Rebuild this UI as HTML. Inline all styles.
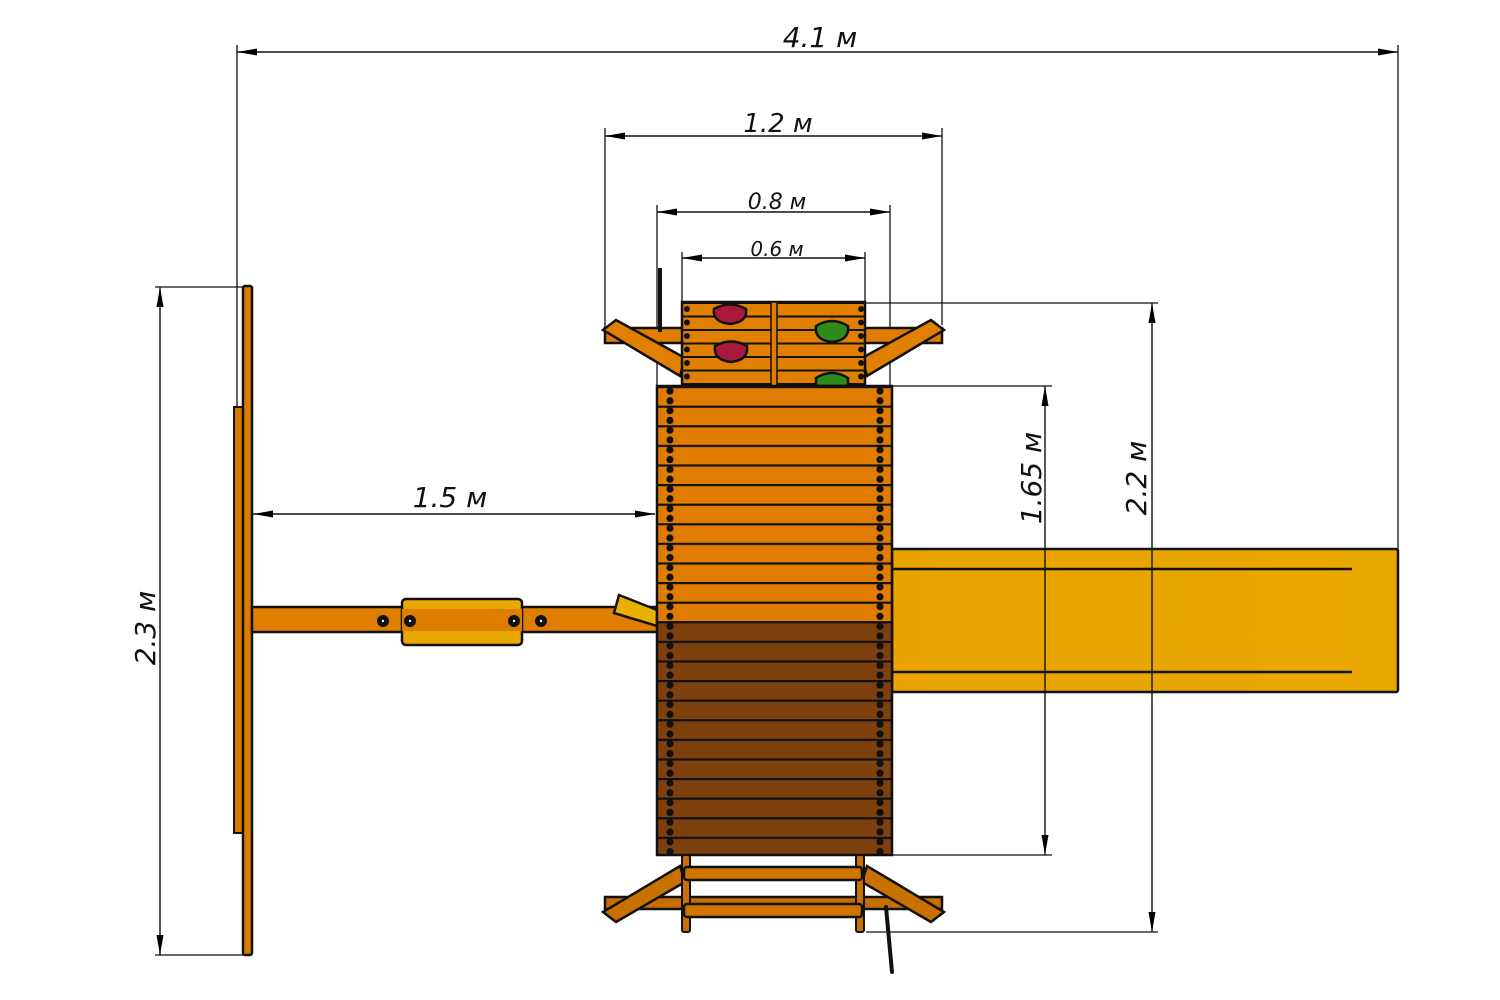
<!DOCTYPE html>
<html><head><meta charset="utf-8"><style>
html,body{margin:0;padding:0;background:#fff}
svg{display:block}
text{font-family:"DejaVu Sans","Liberation Sans",sans-serif;font-style:italic;fill:#111}
</style></head><body>
<svg width="1500" height="1000" viewBox="0 0 1500 1000" xmlns="http://www.w3.org/2000/svg">
<defs>
<marker id="a" markerWidth="20" markerHeight="8" refX="20" refY="4" orient="auto" markerUnits="userSpaceOnUse"><path d="M0,0.5 L20,4 L0,7.5 Z" fill="#000"/></marker>
<marker id="b" markerWidth="20" markerHeight="8" refX="0" refY="4" orient="auto" markerUnits="userSpaceOnUse"><path d="M20,0.5 L0,4 L20,7.5 Z" fill="#000"/></marker>
<pattern id="pl" patternUnits="userSpaceOnUse" x="0" y="386" width="1500" height="19.6"><rect x="0" y="0" width="1500" height="2.2" fill="#111"/></pattern>
<pattern id="bolt" patternUnits="userSpaceOnUse" x="0" y="386" width="1500" height="9.8"><circle cx="670" cy="5" r="3.6" fill="#111"/><circle cx="880" cy="5" r="3.6" fill="#111"/></pattern>
<pattern id="wl" patternUnits="userSpaceOnUse" x="0" y="302" width="1500" height="13.5"><rect x="0" y="0" width="1500" height="2" fill="#111"/></pattern>
<pattern id="wb" patternUnits="userSpaceOnUse" x="0" y="302" width="1500" height="13.5"><circle cx="687" cy="7" r="3" fill="#111"/><circle cx="861" cy="7" r="3" fill="#111"/></pattern>
<linearGradient id="sl" x1="0" x2="1"><stop offset="0" stop-color="#E8A300"/><stop offset="1" stop-color="#E9A800"/></linearGradient>
</defs>

<g stroke="#111" stroke-width="1.3" fill="none">
<line x1="237" y1="45" x2="237" y2="610"/>
<line x1="1398" y1="45" x2="1398" y2="550"/>
<line x1="605" y1="128" x2="605" y2="330"/>
<line x1="942" y1="128" x2="942" y2="325"/>
<line x1="657" y1="205" x2="657" y2="390"/>
<line x1="890" y1="205" x2="890" y2="390"/>
<line x1="682" y1="252" x2="682" y2="305"/>
<line x1="865" y1="252" x2="865" y2="305"/>
<line x1="155" y1="287" x2="245" y2="287"/>
<line x1="155" y1="955" x2="245" y2="955"/>
<line x1="866" y1="303" x2="1158" y2="303"/>
<line x1="866" y1="932" x2="1158" y2="932"/>
<line x1="892" y1="386" x2="1052" y2="386"/>
<line x1="892" y1="855" x2="1052" y2="855"/>
</g>

<rect x="234" y="407" width="9" height="426" fill="#D97800" stroke="#111" stroke-width="2"/>
<rect x="243" y="286" width="9" height="669" rx="2" fill="#DD7A00" stroke="#111" stroke-width="2.5"/>
<rect x="252" y="607" width="406" height="25" fill="#DE7D00" stroke="#111" stroke-width="2.5"/>
<rect x="402" y="599" width="120" height="46" rx="4" fill="#E9A800" stroke="#111" stroke-width="2.5"/>
<rect x="402" y="609" width="120" height="22" fill="#DE7D00"/>
<g fill="#111"><circle cx="383" cy="621" r="6"/><circle cx="410" cy="621" r="6"/><circle cx="514" cy="621" r="6"/><circle cx="541" cy="621" r="6"/></g>
<g fill="#fff"><circle cx="383" cy="621" r="1.2"/><circle cx="410" cy="621" r="1.2"/><circle cx="514" cy="621" r="1.2"/><circle cx="541" cy="621" r="1.2"/></g>
<path d="M619,595 L657,610 L657,626 L614,613 Z" fill="#E9B000" stroke="#111" stroke-width="2.5"/>

<rect x="892" y="549" width="506" height="143" rx="2" fill="url(#sl)" stroke="#111" stroke-width="2.5"/>
<line x1="892" y1="569" x2="1352" y2="569" stroke="#111" stroke-width="2.5"/>
<line x1="892" y1="672" x2="1352" y2="672" stroke="#111" stroke-width="2.5"/>

<rect x="605" y="328" width="337" height="15" fill="#DE7D00" stroke="#111" stroke-width="2.5"/>
<path d="M603,330 L616,320 L685,358 L680,376 Z" fill="#E08000" stroke="#111" stroke-width="2.5"/>
<path d="M944,330 L931,320 L862,358 L867,376 Z" fill="#E08000" stroke="#111" stroke-width="2.5"/>
<line x1="660" y1="268" x2="660" y2="332" stroke="#111" stroke-width="4"/>

<rect x="682" y="302" width="183" height="84" fill="#E07F00" stroke="#111" stroke-width="2.5"/>
<rect x="682" y="302" width="183" height="84" fill="url(#wl)"/>
<rect x="682" y="302" width="183" height="84" fill="url(#wb)"/>
<rect x="771" y="302" width="6" height="84" fill="#DE7D00" stroke="#111" stroke-width="1.5"/>
<g stroke="#111" stroke-width="2.5">
<path d="M714,309 Q730,300 746,309 Q748,322 730,324 Q712,322 714,309Z" fill="#A8193A"/>
<path d="M715,346 Q731,337 747,346 Q749,360 731,362 Q713,360 715,346Z" fill="#A8193A"/>
<path d="M816,326 Q832,316 848,326 Q850,340 832,342 Q814,340 816,326Z" fill="#2E8B1A"/>
<path d="M816,378 Q832,368 848,378 L848,386 L816,386Z" fill="#2E8B1A"/>
</g>

<rect x="657" y="386" width="235" height="235" fill="#E07C00"/>
<rect x="657" y="621" width="235" height="234" fill="#7E400C"/>
<rect x="657" y="386" width="235" height="469" fill="url(#pl)"/>
<rect x="657" y="386" width="235" height="469" fill="url(#bolt)"/>
<rect x="657" y="386" width="235" height="469" fill="none" stroke="#111" stroke-width="2.5"/>

<rect x="605" y="897" width="337" height="12" fill="#C86E00" stroke="#111" stroke-width="2.5"/>
<path d="M603,912 L616,922 L685,882 L680,866 Z" fill="#C87000" stroke="#111" stroke-width="2.5"/>
<path d="M944,912 L931,922 L862,882 L867,866 Z" fill="#C87000" stroke="#111" stroke-width="2.5"/>
<rect x="682" y="855" width="8" height="77" rx="2" fill="#C87000" stroke="#111" stroke-width="2"/>
<rect x="856" y="855" width="8" height="77" rx="2" fill="#C87000" stroke="#111" stroke-width="2"/>
<rect x="684" y="867" width="178" height="13" rx="3" fill="#D07400" stroke="#111" stroke-width="2.5"/>
<rect x="684" y="904" width="178" height="13" rx="3" fill="#D07400" stroke="#111" stroke-width="2.5"/>
<line x1="886" y1="907" x2="892" y2="972" stroke="#111" stroke-width="4" stroke-linecap="round"/>

<g stroke="#111" stroke-width="1.4" marker-start="url(#b)" marker-end="url(#a)">
<line x1="237" y1="52" x2="1398" y2="52"/>
<line x1="605" y1="136" x2="942" y2="136"/>
<line x1="657" y1="212" x2="890" y2="212"/>
<line x1="682" y1="258" x2="865" y2="258"/>
<line x1="253" y1="514" x2="655" y2="514"/>
<line x1="160" y1="287" x2="160" y2="955"/>
<line x1="1045" y1="386" x2="1045" y2="855"/>
<line x1="1152" y1="303" x2="1152" y2="932"/>
</g>

<g font-weight="300">
<text x="820" y="47" font-size="28" text-anchor="middle">4.1 м</text>
<text x="778" y="132" font-size="26" text-anchor="middle">1.2 м</text>
<text x="777" y="209" font-size="22" text-anchor="middle">0.8 м</text>
<text x="777" y="256" font-size="20" text-anchor="middle">0.6 м</text>
<text x="450" y="507" font-size="28" text-anchor="middle">1.5 м</text>
<text transform="translate(155,628) rotate(-90)" font-size="28" text-anchor="middle">2.3 м</text>
<text transform="translate(1041,478) rotate(-90)" font-size="28" text-anchor="middle">1.65 м</text>
<text transform="translate(1146,478) rotate(-90)" font-size="28" text-anchor="middle">2.2 м</text>
</g>
</svg>
</body></html>
